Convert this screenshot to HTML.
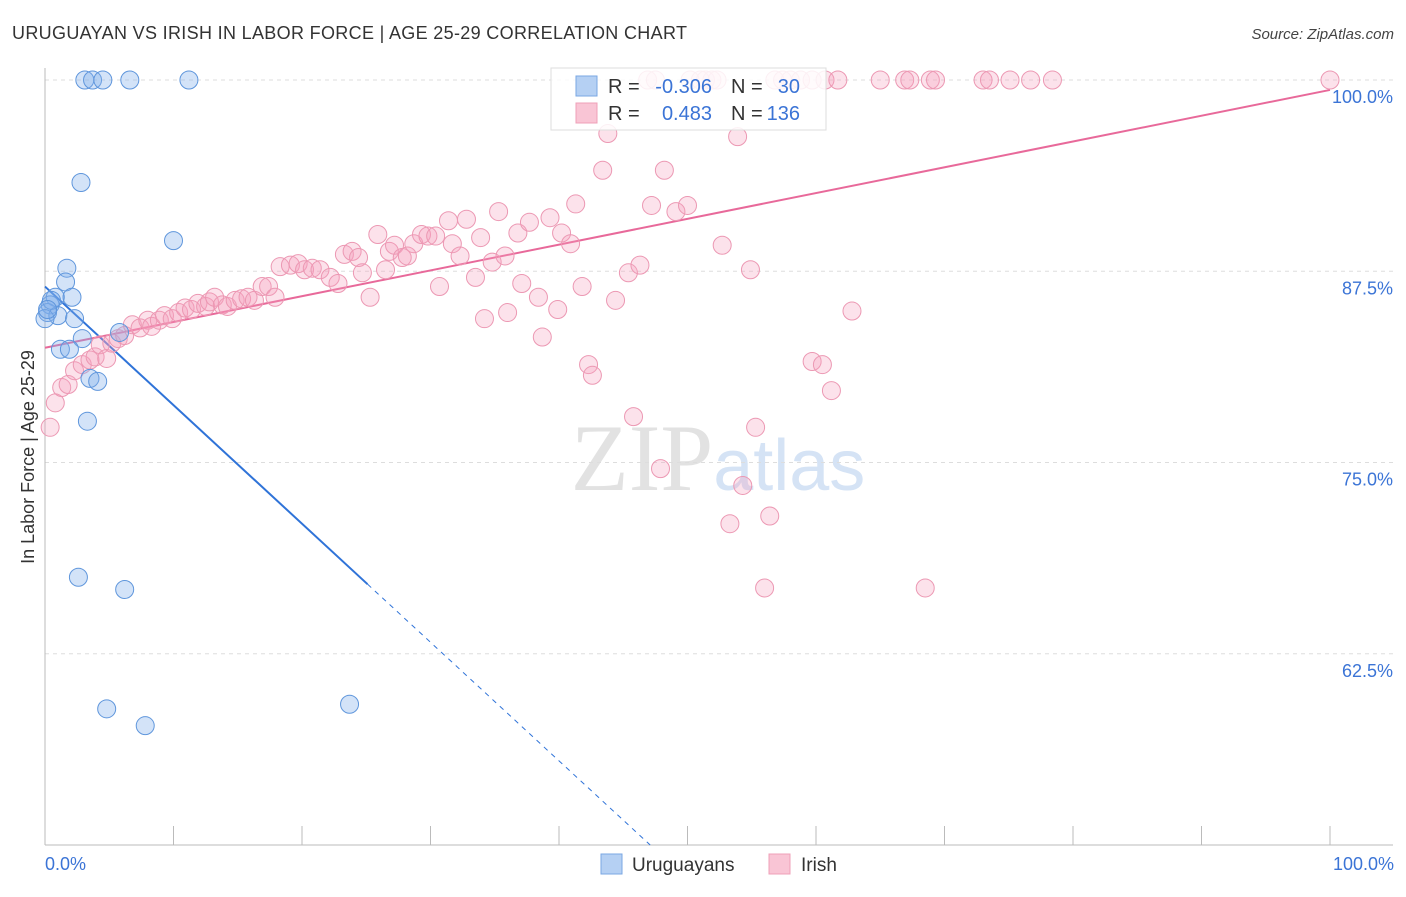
<!DOCTYPE html>
<html><head><meta charset="utf-8"><style>
body{margin:0;background:#fff;font-family:"Liberation Sans",sans-serif;}
</style></head><body>
<svg id="chart" width="1406" height="892" xmlns="http://www.w3.org/2000/svg" style="font-family:'Liberation Sans',sans-serif">
<text x="12" y="39" font-size="18" fill="#333" letter-spacing="0.33">URUGUAYAN VS IRISH IN LABOR FORCE | AGE 25-29 CORRELATION CHART</text>
<text x="1394" y="39" font-size="15" fill="#444" text-anchor="end" font-style="italic">Source: ZipAtlas.com</text>
<text x="718" y="490" font-size="95" fill="#e2e2e2" text-anchor="middle" font-family="Liberation Serif">ZIP<tspan fill="#d5e3f5" font-family="Liberation Sans" font-size="72">atlas</tspan></text>
<g id="grid"></g>
<g id="axes"></g>
<g id="lines"></g>
<g id="pts"></g>
<text transform="translate(34,457) rotate(-90)" font-size="18" fill="#333" text-anchor="middle">In Labor Force | Age 25-29</text>
<g>
<rect x="551" y="68" width="275" height="62" fill="#fff" fill-opacity="0.85" stroke="#ddd"/>
<rect x="576" y="76" width="21" height="20" fill="#b5d0f3" stroke="#7aa7e3"/>
<rect x="576" y="103" width="21" height="20" fill="#f9c5d5" stroke="#efa0b8"/>
<text x="608" y="93" font-size="20" fill="#333">R =</text>
<text x="712" y="93" font-size="20" fill="#3b74d6" text-anchor="end">-0.306</text>
<text x="731" y="93" font-size="20" fill="#333">N =</text>
<text x="800" y="93" font-size="20" fill="#3b74d6" text-anchor="end">30</text>
<text x="608" y="120" font-size="20" fill="#333">R =</text>
<text x="712" y="120" font-size="20" fill="#3b74d6" text-anchor="end">0.483</text>
<text x="731" y="120" font-size="20" fill="#333">N =</text>
<text x="800" y="120" font-size="20" fill="#3b74d6" text-anchor="end">136</text>
</g>
<g>
<rect x="601" y="854" width="21" height="20" fill="#b5d0f3" stroke="#7aa7e3"/>
<text x="632" y="871" font-size="19" fill="#333">Uruguayans</text>
<rect x="769" y="854" width="21" height="20" fill="#f9c5d5" stroke="#efa0b8"/>
<text x="801" y="871" font-size="19" fill="#333">Irish</text>
</g>
</svg>
<script>
const yTicks=[100,87.5,75,62.5];
const yTickLabels=["100.0%","87.5%","75.0%","62.5%"];
const xTickLabels=["0.0%","100.0%"];
const blueX=[3.1,3.7,4.5,6.6,11.2,2.8,10.0,1.7,1.6,2.1,0.8,0.4,0.2,1.0,2.3,5.8,2.9,1.2,1.9,3.5,4.1,3.3,2.6,6.2,4.8,7.8,23.7,0,0.5,0.2];
const blueY=[100,100,100,100,100,93.3,89.5,87.7,86.8,85.8,85.8,85.3,84.8,84.6,84.4,83.5,83.1,82.4,82.4,80.5,80.3,77.7,67.5,66.7,58.9,57.8,59.2,84.4,85.6,85.0];
const pinkX=[46.9,47.5,50.2,51.0,51.4,51.9,52.3,56.8,57.4,58.0,58.8,59.7,60.7,61.7,65.0,66.9,67.3,68.9,69.3,73.0,73.5,75.1,76.7,78.4,100,
0.4,0.8,1.3,1.8,2.3,2.9,3.5,3.9,4.3,4.8,5.2,5.7,6.2,6.8,7.4,8.0,8.3,8.9,9.3,9.9,10.4,10.9,11.4,11.9,12.5,12.8,13.2,13.8,14.2,14.8,15.3,15.8,16.3,16.9,17.4,17.9,18.3,19.1,19.7,20.2,20.8,21.4,22.2,22.8,23.3,23.9,24.4,24.7,25.3,25.9,26.5,26.8,27.2,27.8,28.2,28.7,29.3,29.8,30.4,30.7,31.4,31.7,32.3,32.8,33.5,33.9,34.2,34.8,35.3,35.8,36.0,36.8,37.1,37.7,38.4,38.7,39.3,39.9,40.2,40.9,41.3,41.8,42.3,42.6,43.4,43.8,44.4,45.4,45.8,46.3,47.2,47.9,48.2,49.1,50.0,52.7,53.3,53.9,54.3,54.9,55.3,56.4,56.0,59.7,60.5,61.2,62.8,68.5];
const pinkY=[100,100,100,100,100,100,100,100,100,100,100,100,100,100,100,100,100,100,100,100,100,100,100,100,100,
77.3,78.9,79.9,80.1,81.0,81.4,81.7,81.9,82.7,81.8,82.8,83.1,83.3,84.0,83.8,84.3,83.9,84.3,84.6,84.4,84.8,85.1,85.0,85.4,85.2,85.5,85.8,85.3,85.2,85.6,85.7,85.8,85.6,86.5,86.5,85.8,87.8,87.9,88.0,87.6,87.7,87.6,87.1,86.7,88.6,88.8,88.4,87.4,85.8,89.9,87.6,88.8,89.2,88.4,88.5,89.3,89.9,89.8,89.8,86.5,90.8,89.3,88.5,90.9,87.1,89.7,84.4,88.1,91.4,88.5,84.8,90.0,86.7,90.7,85.8,83.2,91.0,85.0,90.0,89.3,91.9,86.5,81.4,80.7,94.1,96.5,85.6,87.4,78.0,87.9,91.8,74.6,94.1,91.4,91.8,89.2,71.0,96.3,73.5,87.6,77.3,71.5,66.8,81.6,81.4,79.7,84.9,66.8];
const blueLine=[86.5,-0.775];
const pinkLine=[82.5,99.35];
const NS="http://www.w3.org/2000/svg";
const X=v=>45+v*12.85, Y=v=>80+(100-v)*15.3;
function mk(t,a,p){const e=document.createElementNS(NS,t);for(const k in a)e.setAttribute(k,a[k]);p.appendChild(e);return e;}
const grid=document.getElementById('grid'),axes=document.getElementById('axes'),lines=document.getElementById('lines'),pts=document.getElementById('pts');
yTicks.forEach((t,i)=>{
 const l=mk('line',{x1:45,x2:1393,y1:Y(t),y2:Y(t),stroke:'#ddd','stroke-dasharray':'4,4'},grid);
 
 
 const tx=mk('text',{x:1393,y:Y(t)+23,'font-size':18,fill:'#3b74d6','text-anchor':'end'},axes);
 tx.textContent=yTickLabels[i];
 
 
});
const ya=mk('line',{x1:45,x2:45,y1:68,y2:845,stroke:'#bbb'},axes);


const xa=mk('line',{x1:45,x2:1393,y1:845,y2:845,stroke:'#bbb'},axes);


for(let i=0;i<=10;i++){const t=mk('line',{x1:X(i*10),x2:X(i*10),y1:826,y2:845,stroke:'#bbb'},axes);
 
 }
[[0,'start',45],[100,'end',1394]].forEach((d,i)=>{const t=mk('text',{x:d[2],y:870,'font-size':18,fill:'#3b74d6','text-anchor':d[1]},axes);t.textContent=xTickLabels[i];
 
 });
const bEnd=(50-blueLine[0])/blueLine[1], bSolid=25.1;
const bl=mk('line',{x1:X(0),y1:Y(blueLine[0]),x2:X(bSolid),y2:Y(blueLine[0]+blueLine[1]*bSolid),stroke:'#2f73d8','stroke-width':2},lines);


const bd=mk('line',{x1:X(bSolid),y1:Y(blueLine[0]+blueLine[1]*bSolid),x2:X(bEnd),y2:Y(50),stroke:'#2f73d8','stroke-width':1,'stroke-dasharray':'5,5'},lines);


const pl=mk('line',{x1:X(0),y1:Y(pinkLine[0]),x2:X(100),y2:Y(pinkLine[1]),stroke:'#e8699a','stroke-width':2},lines);


pinkX.forEach((x,i)=>{const c=mk('circle',{cx:X(x),cy:Y(pinkY[i]),r:9,fill:'rgba(246,160,190,0.3)',stroke:'#ec98b3','stroke-width':1},pts);
 
 });
blueX.forEach((x,i)=>{const c=mk('circle',{cx:X(x),cy:Y(blueY[i]),r:9,fill:'rgba(130,175,235,0.35)',stroke:'#5f96dc','stroke-width':1},pts);
 
 });
</script>
</body></html>
